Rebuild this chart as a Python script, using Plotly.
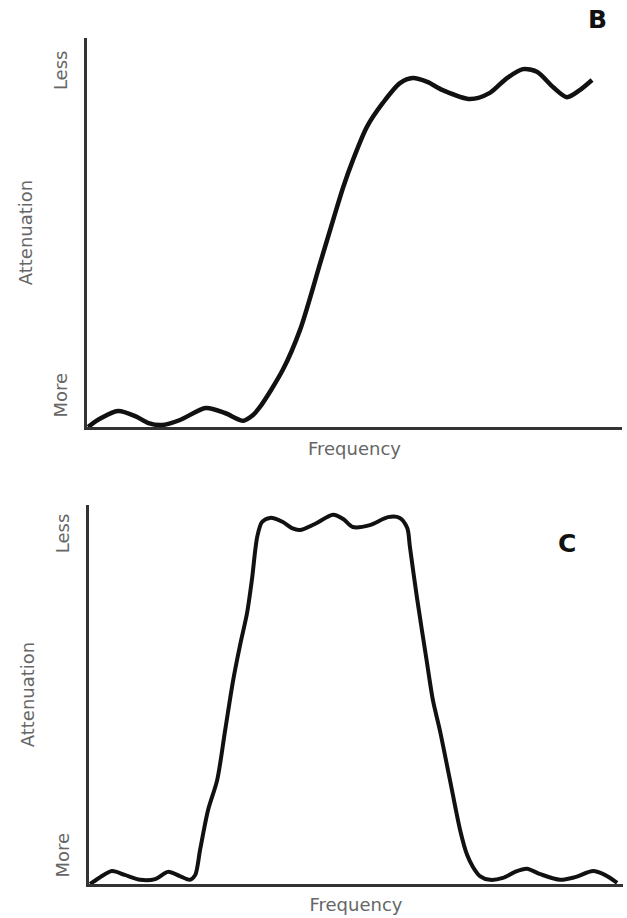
# import
import plotly.graph_objects as go
from plotly.subplots import make_subplots

# data (frequency and attenuation in relative units 0-100)
b_freq = [0.2, 2.4, 5.8, 9.0, 11.5, 14.0, 17.4, 22.2, 25.8, 29.2, 30.8, 32.3,
          36.6, 39.8, 43.6, 46.0, 47.9, 49.7, 52.3, 55.3, 58.5, 60.9, 63.6,
          66.5, 71.6, 75.3, 78.5, 81.5, 84.1, 87.1, 89.7, 92.1, 94.4]
b_atten = [0.0, 2.1, 4.1, 2.8, 1.0, 0.5, 1.8, 4.9, 3.6, 1.6, 2.8, 5.1,
           14.7, 24.9, 42.2, 53.2, 61.7, 68.6, 77.1, 83.3, 88.4, 89.7, 88.7,
           86.6, 84.3, 85.9, 89.7, 92.0, 91.3, 87.4, 84.8, 86.6, 89.2]

c_freq = [0.2, 2.1, 4.3, 6.7, 9.6, 12.4, 14.8, 17.0, 18.9, 19.9, 20.8, 22.3,
          24.0, 25.5, 27.0, 28.3, 29.6, 30.5, 31.5, 32.4, 33.9, 36.3, 38.0,
          39.5, 42.3, 45.7, 47.6, 49.4, 52.6, 56.0, 58.2, 59.6, 60.1, 61.4,
          63.3, 64.4, 65.7, 67.6, 69.5, 70.8, 71.9, 73.2, 75.1, 77.5, 79.8,
          82.0, 84.5, 88.2, 91.0, 94.4, 96.6, 98.9]
c_atten = [0.0, 1.8, 3.4, 2.4, 1.1, 1.3, 3.2, 2.1, 1.1, 2.4, 9.0, 19.5,
           27.4, 40.6, 53.8, 63.1, 71.5, 80.2, 91.6, 95.5, 96.6, 95.5, 93.9,
           93.4, 95.0, 97.4, 96.3, 94.2, 94.7, 96.8, 96.6, 93.9, 88.9, 75.7,
           58.3, 48.5, 40.6, 27.4, 14.2, 7.7, 4.5, 2.1, 1.1, 1.6, 3.2,
           4.0, 2.6, 1.1, 1.8, 3.4, 2.4, 0.3]

b_ticks = [7.5, 91.0]
c_ticks = [6.9, 91.8]
tick_text = ['More', 'Less']

# figure
fig = make_subplots(rows=2, cols=1)
fig.add_trace(go.Scatter(x=b_freq, y=b_atten, mode='lines',
                         line=dict(color='#111', width=4.5, shape='spline', smoothing=0.8),
                         showlegend=False), row=1, col=1)
fig.add_trace(go.Scatter(x=c_freq, y=c_atten, mode='lines',
                         line=dict(color='#111', width=4, shape='spline', smoothing=0.8),
                         showlegend=False), row=2, col=1)

label_font = dict(family='DejaVu Sans', size=18, color='#666')
axis_common = dict(showgrid=False, zeroline=False, showline=True, automargin=False,
                   linecolor='#333', linewidth=2.5, range=[0, 100], fixedrange=True)
panel_font = dict(family='DejaVu Sans', size=25, color='#111')

fig.update_layout(
    width=627, height=918,
    margin=dict(l=0, r=0, t=0, b=0),
    paper_bgcolor='white', plot_bgcolor='white',
    xaxis=dict(axis_common, domain=[87 / 627, 622 / 627], showticklabels=False,
               title=dict(text='Frequency', font=label_font, standoff=14)),
    yaxis=dict(axis_common, domain=[1 - 427 / 918, 1 - 38 / 918],
               tickvals=b_ticks, ticktext=tick_text, tickangle=-90,
               tickfont=label_font, ticklabelstandoff=10,
               title=dict(text='Attenuation', font=label_font, standoff=13)),
    xaxis2=dict(axis_common, domain=[89 / 627, 623 / 627], showticklabels=False,
                title=dict(text='Frequency', font=label_font, standoff=13)),
    yaxis2=dict(axis_common, domain=[1 - 884 / 918, 1 - 505 / 918],
                tickvals=c_ticks, ticktext=tick_text, tickangle=-90,
                tickfont=label_font, ticklabelstandoff=10,
                title=dict(text='Attenuation', font=label_font, standoff=13)),
    annotations=[
        dict(text='<b>B</b>', x=597 / 627, y=1 - 19 / 918, xref='paper', yref='paper',
             xanchor='center', yanchor='middle', showarrow=False, font=panel_font),
        dict(text='<b>C</b>', x=567 / 627, y=1 - 543 / 918, xref='paper', yref='paper',
             xanchor='center', yanchor='middle', showarrow=False, font=panel_font),
    ],
)

# page body has a default margin; drop it so the figure fills the window
fig.write_html("out.html", config={'displayModeBar': False},
               post_script="document.body.style.margin='0';")
